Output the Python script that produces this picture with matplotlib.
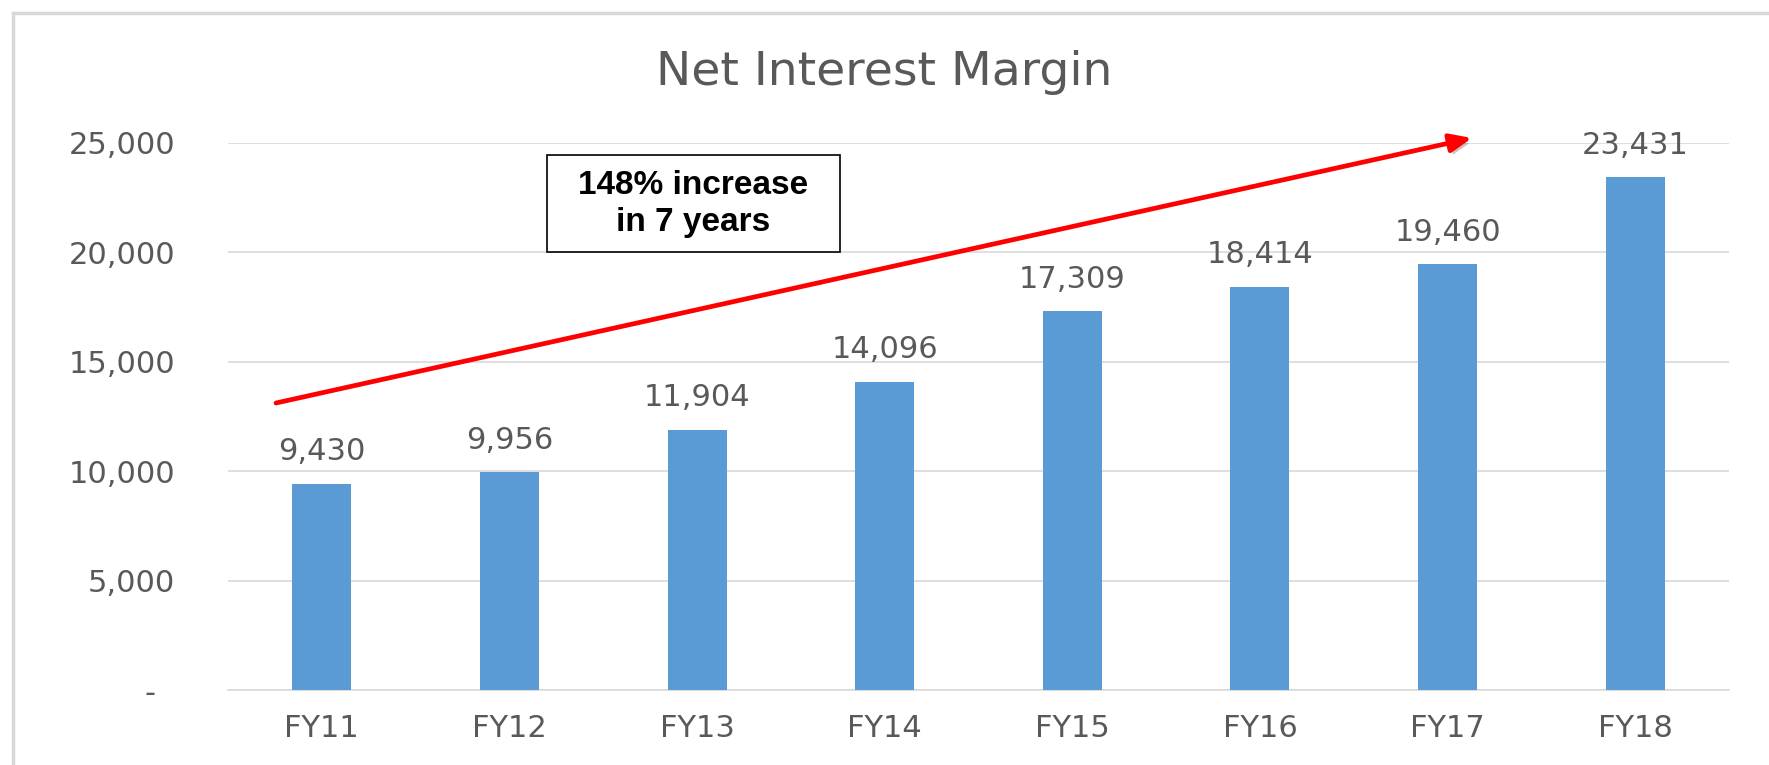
import matplotlib.pyplot as plt
import matplotlib.patheffects as pe
from matplotlib.lines import Line2D
from matplotlib.patches import Rectangle
from matplotlib.ticker import FuncFormatter

# 数据
years = ["FY11", "FY12", "FY13", "FY14", "FY15", "FY16", "FY17", "FY18"]
nim = [9430, 9956, 11904, 14096, 17309, 18414, 19460, 23431]
y_ticks = [0, 5000, 10000, 15000, 20000, 25000]

bar_color = "#5B9BD5"
text_color = "#595959"
grid_color = "#D9D9D9"

plt.rcParams["font.family"] = ["DejaVu Sans"]

fig = plt.figure(figsize=(17.69, 7.65), dpi=100)
ax = fig.add_axes([228 / 1769, 1 - 690 / 765, (1729 - 228) / 1769, (690 - 143) / 765])

x = range(len(years))
ax.bar(x, nim, width=0.315, color=bar_color, zorder=3)

# 柱顶数值
for i, v in enumerate(nim):
    ax.annotate(f"{v:,}", xy=(i, v), xytext=(0, 17), textcoords="offset points",
                ha="center", va="baseline", fontsize=22, color=text_color,
                annotation_clip=False)

ax.set_xlim(-0.5, len(years) - 0.5)
ax.set_ylim(0, 25000)
ax.set_yticks(y_ticks)
ax.yaxis.set_major_formatter(FuncFormatter(lambda v, p: "-  " if v == 0 else f"{int(v):,}"))
ax.set_xticks(list(x))
ax.set_xticklabels(years)
ax.tick_params(axis="both", length=0, labelsize=22, labelcolor=text_color)
ax.tick_params(axis="y", pad=38)
ax.tick_params(axis="x", pad=17)

ax.grid(axis="y", color=grid_color, linewidth=1.2, zorder=0)
for s in ["top", "right", "left"]:
    ax.spines[s].set_visible(False)
ax.spines["bottom"].set_color(grid_color)
ax.spines["bottom"].set_linewidth(1.2)

fig.text(0.5, 1 - 85 / 765, "Net Interest Margin", ha="center", va="baseline",
         fontsize=34, color=text_color)

# 外框
fig.add_artist(Line2D([13 / 1769, 13 / 1769], [0, 1 - 13 / 765], color=grid_color, linewidth=2.5))
fig.add_artist(Line2D([13 / 1769, 1], [1 - 13 / 765, 1 - 13 / 765], color=grid_color, linewidth=2.5))

# 增长箭头
arrow = plt.Annotation("", xy=(1472 / 1769, 1 - 138 / 765), xytext=(276 / 1769, 1 - 403 / 765),
                       xycoords="figure fraction", textcoords="figure fraction",
                       arrowprops=dict(arrowstyle="-|>,head_length=1.3,head_width=0.55",
                                       color="#FF0000", linewidth=3.4, shrinkA=0, shrinkB=0))
fig.add_artist(arrow)
arrow.arrow_patch.set_path_effects([pe.SimplePatchShadow(offset=(2, -3), alpha=0.25), pe.Normal()])

# 文本框
fig.add_artist(Rectangle((547 / 1769, 1 - 252 / 765), (840 - 547) / 1769, (252 - 155) / 765,
                         transform=fig.transFigure, facecolor="white", edgecolor="black", linewidth=1.2))
fig.text(693.5 / 1769, 1 - 203.5 / 765, "148% increase\nin 7 years", ha="center", va="center",
         fontsize=24, fontweight="bold", family=["Liberation Sans", "DejaVu Sans"],
         linespacing=1.25, color="black")

fig.savefig("out.png", dpi=100)
